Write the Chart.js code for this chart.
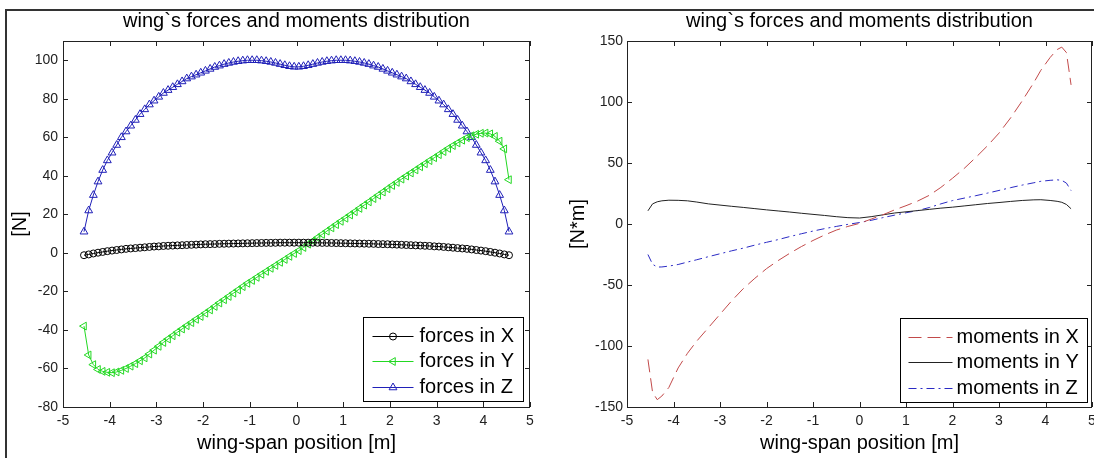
<!DOCTYPE html>
<html>
<head>
<meta charset="utf-8">
<script src="https://cdn.jsdelivr.net/npm/chart.js@4.4.1/dist/chart.umd.min.js"></script>
<style>
  html, body { margin: 0; padding: 0; background: #fff; }
  #page { position: relative; width: 1094px; height: 458px; overflow: hidden; background: #fff; }
  #frame { position: absolute; left: 5px; top: 9px; width: 1200px; height: 600px;
           border-top: 2px solid #333; border-left: 2px solid #333; }
  .panel { position: absolute; top: 0; width: 547px; height: 458px; }
</style>
</head>
<body>
<div id="page">
  <div id="frame"></div>
  <div class="panel" style="left:0"><canvas id="forcesChart" width="547" height="458"></canvas></div>
  <div class="panel" style="left:547px"><canvas id="momentsChart" width="547" height="458"></canvas></div>
</div>
<script>
// wing-span stations for the force curves [m]
const forcePos = [
  -4.55, -4.45, -4.35, -4.25, -4.15, -4.05, -3.95, -3.85, -3.75, -3.65, -3.55, -3.45, -3.35, -3.25, -3.15, -3.05,
  -2.95, -2.85, -2.75, -2.65, -2.55, -2.45, -2.35, -2.25, -2.15, -2.05, -1.95, -1.85, -1.75, -1.65, -1.55, -1.45,
  -1.35, -1.25, -1.15, -1.05, -0.95, -0.85, -0.75, -0.65, -0.55, -0.45, -0.35, -0.25, -0.15, -0.05,
  0.05, 0.15, 0.25, 0.35, 0.45, 0.55, 0.65, 0.75, 0.85, 0.95, 1.05, 1.15, 1.25, 1.35, 1.45, 1.55,
  1.65, 1.75, 1.85, 1.95, 2.05, 2.15, 2.25, 2.35, 2.45, 2.55, 2.65, 2.75, 2.85, 2.95, 3.05, 3.15,
  3.25, 3.35, 3.45, 3.55, 3.65, 3.75, 3.85, 3.95, 4.05, 4.15, 4.25, 4.35, 4.45, 4.55
];
const forcesX = [
  -1.2, -0.8, -0.3, 0.1, 0.5, 0.9, 1.2, 1.5, 1.8, 2.1, 2.3, 2.5, 2.7, 2.9, 3.1, 3.3,
  3.4, 3.6, 3.7, 3.8, 3.9, 4.0, 4.1, 4.2, 4.3, 4.4, 4.5, 4.55, 4.6, 4.7, 4.75, 4.8,
  4.85, 4.9, 4.95, 5.0, 5.05, 5.1, 5.15, 5.2, 5.2, 5.25, 5.3, 5.3, 5.3, 5.3,
  5.3, 5.3, 5.3, 5.3, 5.25, 5.2, 5.2, 5.15, 5.1, 5.05, 5.0, 4.95, 4.9, 4.85, 4.8, 4.75,
  4.7, 4.6, 4.55, 4.5, 4.4, 4.3, 4.2, 4.1, 4.0, 3.9, 3.8, 3.7, 3.6, 3.4, 3.3, 3.1,
  2.9, 2.7, 2.5, 2.3, 2.1, 1.8, 1.5, 1.2, 0.9, 0.5, 0.1, -0.3, -0.8, -1.2
];
const forcesY = [
  -38, -53, -58, -60.5, -61.5, -62, -62.2, -61.8, -61, -60, -58.8, -57.5, -56, -54.5, -52.5, -50.5,
  -48.5, -46.5, -44.7, -43, -41.2, -39.5, -37.8, -36.2, -34.5, -33, -31.3, -29.6, -27.8, -26, -24.3, -22.6,
  -20.9, -19.2, -17.5, -15.8, -14.3, -12.7, -11.1, -9.6, -8.0, -6.5, -4.9, -3.4, -1.8, -0.3,
  1.2, 2.8, 4.5, 6.2, 7.9, 9.6, 11.3, 13.0, 14.7, 16.4, 18.0, 19.7, 21.4, 23.1, 24.8, 26.5,
  28.2, 29.9, 31.6, 33.3, 35.0, 36.6, 38.3, 39.9, 41.5, 43.1, 44.7, 46.3, 47.9, 49.4, 51.0, 52.6,
  54.2, 55.7, 57.1, 58.5, 59.8, 60.8, 61.6, 62.1, 62.2, 61.8, 60.5, 58, 54, 38
];
const forcesZ = [
  11, 22, 30, 37, 43, 48, 52, 56, 60, 63, 66, 69, 72, 74.5, 77, 79,
  81, 83, 84.5, 86, 87.5, 89, 90.5, 91.5, 92.5, 93.5, 94.5, 95.5, 96.5, 97.2, 98, 98.6,
  99.1, 99.5, 99.8, 100, 100, 100, 99.8, 99.5, 99.1, 98.6, 98, 97.4, 96.9, 96.6,
  96.6, 96.9, 97.4, 98, 98.6, 99.1, 99.5, 99.8, 100, 100, 100, 99.8, 99.5, 99.1, 98.6, 98,
  97.2, 96.5, 95.5, 94.5, 93.5, 92.5, 91.5, 90.5, 89, 87.5, 86, 84.5, 83, 81, 79, 77,
  74.5, 72, 69, 66, 63, 60, 56, 52, 48, 43, 37, 30, 22, 11
];

// wing-span stations for the moment curves [m]
const momentPos = [
  -4.55, -4.45, -4.35, -4.25, -4.1, -3.9, -3.7, -3.5, -3.25, -3, -2.75, -2.5, -2.25, -2, -1.75,
  -1.5, -1.25, -1, -0.75, -0.5, -0.25, 0, 0.25, 0.5, 0.75, 1, 1.25, 1.5, 1.75, 2, 2.25,
  2.5, 2.75, 3, 3.25, 3.5, 3.75, 3.9, 4.1, 4.25, 4.35, 4.45, 4.55
];
const momentsX = [
  -111, -138, -144, -141, -134, -118, -106, -96, -85, -74, -63, -53, -44.5, -36.6, -30,
  -24, -18.5, -13.5, -9, -5, -2, 0.5, 4, 7.5, 11.5, 15, 18.8, 23.5, 30, 37.5, 45.5,
  54.5, 64, 74.5, 87, 101, 116, 126, 136.5, 143, 145, 140.5, 114
];
const momentsY = [
  10.8, 16.5, 18.2, 19, 19.5, 19.4, 19, 18, 16.5, 15.5, 14.5, 13.6, 12.6, 11.6, 10.7,
  9.8, 8.8, 7.9, 7, 6, 5.2, 4.9, 6, 7.5, 9, 10, 11, 12, 13, 13.8, 14.8,
  15.8, 16.8, 17.6, 18.5, 19.3, 19.8, 19.9, 19.3, 18.6, 17.8, 16, 12.5
];
const momentsZ = [
  -25, -33, -35.3, -35.2, -34.5, -33.2, -31.2, -29.3, -26.8, -24.4, -22, -19.8, -17.3, -15, -12.8,
  -10.3, -8, -5.8, -3.8, -2, -0.3, 1.2, 3, 5.2, 7.2, 9.2, 11, 13.5, 16.5, 19.2, 21.2,
  23.2, 25.3, 27.5, 29.8, 31.9, 33.8, 35, 35.8, 36.2, 35.8, 33.5, 27.4
];

const xTicks = [-5, -4, -3, -2, -1, 0, 1, 2, 3, 4, 5];
const titleText = 'wing`s forces and moments distribution';
const xLabel = 'wing-span position [m]';

const FONT = '"Liberation Sans", Arial, Helvetica, sans-serif';
const tickFont = { family: FONT, size: 14 };
const bigFont = { family: FONT, size: 20, weight: 'normal' };

function pairs(xs, ys) {
  return xs.map((x, i) => ({ x: x, y: ys[i] }));
}

function drawMarker(ctx, ds, x, y) {
  if (!ds.pointRadius) return;
  ctx.fillStyle = 'rgba(0,0,0,0)';
  ctx.strokeStyle = ds.pointBorderColor || ds.borderColor;
  ctx.lineWidth = 1;
  ctx.setLineDash([]);
  const H = Chart.helpers;
  if (H && H.drawPoint) {
    H.drawPoint(ctx, { pointStyle: ds.pointStyle, radius: ds.pointRadius, rotation: ds.pointRotation || 0, borderWidth: 1 }, x, y);
  } else {
    ctx.beginPath();
    ctx.arc(x, y, ds.pointRadius, 0, Math.PI * 2);
    ctx.stroke();
  }
}

// matlab style box: inward ticks on all four sides + legend in the lower right
const matlabBox = {
  id: 'matlabBox',
  afterDraw(chart, args, opts) {
    const { ctx, chartArea: a, scales } = chart;
    ctx.save();
    ctx.strokeStyle = '#222';
    ctx.lineWidth = 1;
    ctx.setLineDash([]);
    ctx.beginPath();
    scales.x.ticks.forEach(t => {
      const px = Math.round(scales.x.getPixelForValue(t.value)) + 0.5;
      ctx.moveTo(px, a.bottom); ctx.lineTo(px, a.bottom - 5);
      ctx.moveTo(px, a.top); ctx.lineTo(px, a.top + 5);
    });
    scales.y.ticks.forEach(t => {
      const py = Math.round(scales.y.getPixelForValue(t.value)) + 0.5;
      ctx.moveTo(a.left, py); ctx.lineTo(a.left + 5, py);
      ctx.moveTo(a.right, py); ctx.lineTo(a.right - 5, py);
    });
    ctx.stroke();
    ctx.strokeRect(Math.round(a.left) + 0.5, Math.round(a.top) + 0.5,
                   Math.round(a.right - a.left) - 1, Math.round(a.bottom - a.top));

    // legend
    const lg = opts.legend;
    const bx = Math.round(a.right - lg.right - lg.width) + 0.5;
    const by = Math.round(a.bottom - lg.bottom - lg.height) + 0.5;
    ctx.fillStyle = '#fff';
    ctx.fillRect(bx, by, lg.width, lg.height);
    ctx.strokeStyle = '#000';
    ctx.strokeRect(bx, by, lg.width, lg.height);
    chart.data.datasets.forEach((ds, i) => {
      const y = Math.round(by + lg.first + i * lg.row) + 0.5;
      ctx.strokeStyle = ds.borderColor;
      ctx.lineWidth = 1;
      ctx.setLineDash(ds.borderDash || []);
      ctx.beginPath();
      ctx.moveTo(bx + lg.sample[0], y);
      ctx.lineTo(bx + lg.sample[1], y);
      ctx.stroke();
      drawMarker(ctx, ds, bx + (lg.sample[0] + lg.sample[1]) / 2, y);
      ctx.fillStyle = '#000';
      ctx.font = '20px ' + FONT;
      ctx.textBaseline = 'middle';
      ctx.textAlign = 'left';
      ctx.fillText(ds.label, bx + lg.text, y);
    });
    ctx.restore();
  }
};

function xAxis() {
  return {
    type: 'linear', min: -5, max: 5,
    grid: { display: false, drawTicks: false }, border: { display: false },
    afterBuildTicks(scale) { scale.ticks = xTicks.map(v => ({ value: v })); },
    ticks: { color: '#222', font: tickFont, padding: 6, maxRotation: 0, autoSkip: false },
    title: { display: true, text: xLabel, color: '#000', font: bigFont, padding: { top: 0, bottom: 3 } },
    afterFit(scale) { scale.height = 51; scale.paddingLeft = 0; scale.paddingRight = 0; }
  };
}

function yAxis(min, max, step, label, width, labelPad, tickPad) {
  return {
    type: 'linear', min: min, max: max,
    grid: { display: false, drawTicks: false }, border: { display: false },
    ticks: { stepSize: step, includeBounds: false, color: '#222', font: tickFont, padding: tickPad },
    title: { display: true, text: label, color: '#000', font: bigFont, padding: { top: labelPad, bottom: 0 } },
    afterFit(scale) { scale.width = width; scale.paddingTop = 0; scale.paddingBottom = 0; }
  };
}

function baseOptions(padRight, yScale, legend) {
  return {
    responsive: false,
    animation: false,
    layout: { padding: { left: 0, right: padRight, top: 0, bottom: 0 } },
    plugins: {
      legend: { display: false },
      tooltip: { enabled: false },
      title: { display: true, text: titleText, color: '#000', font: bigFont, fullSize: false, padding: { top: 9, bottom: 8 } },
      matlabBox: { legend: legend }
    },
    scales: { x: xAxis(), y: yScale }
  };
}

new Chart(document.getElementById('forcesChart'), {
  type: 'line',
  data: {
    datasets: [
      { label: 'forces in X', data: pairs(forcePos, forcesX), borderColor: '#000', borderWidth: 1,
        pointStyle: 'circle', pointRadius: 3.5, pointBorderColor: '#000', pointBackgroundColor: 'rgba(0,0,0,0)', pointBorderWidth: 1 },
      { label: 'forces in Y', data: pairs(forcePos, forcesY), borderColor: '#22d822', borderWidth: 1,
        pointStyle: 'triangle', pointRotation: -90, pointRadius: 4.5, pointBorderColor: '#22d822', pointBackgroundColor: 'rgba(0,0,0,0)', pointBorderWidth: 1 },
      { label: 'forces in Z', data: pairs(forcePos, forcesZ), borderColor: '#2020b8', borderWidth: 1,
        pointStyle: 'triangle', pointRadius: 4.5, pointBorderColor: '#2020b8', pointBackgroundColor: 'rgba(0,0,0,0)', pointBorderWidth: 1 }
    ]
  },
  options: baseOptions(17, yAxis(-80, 110, 20, '[N]', 63, 8, 5),
    { width: 160, height: 84, right: 7, bottom: 6, first: 18, row: 25.6, sample: [9, 50], text: 56 }),
  plugins: [matlabBox]
});

new Chart(document.getElementById('momentsChart'), {
  type: 'line',
  data: {
    datasets: [
      { label: 'moments in X', data: pairs(momentPos, momentsX), borderColor: '#c24a4a', borderWidth: 1,
        borderDash: [13, 6], pointRadius: 0 },
      { label: 'moments in Y', data: pairs(momentPos, momentsY), borderColor: '#222', borderWidth: 1,
        pointRadius: 0 },
      { label: 'moments in Z', data: pairs(momentPos, momentsZ), borderColor: '#2a2ac4', borderWidth: 1,
        borderDash: [8, 4, 2, 4], pointRadius: 0 }
    ]
  },
  options: baseOptions(2, yAxis(-150, 150, 50, '[N*m]', 80, 19, 4),
    { width: 187, height: 84, right: 5, bottom: 5, first: 18, row: 25.6, sample: [8, 52], text: 56 }),
  plugins: [matlabBox]
});
</script>
</body>
</html>
